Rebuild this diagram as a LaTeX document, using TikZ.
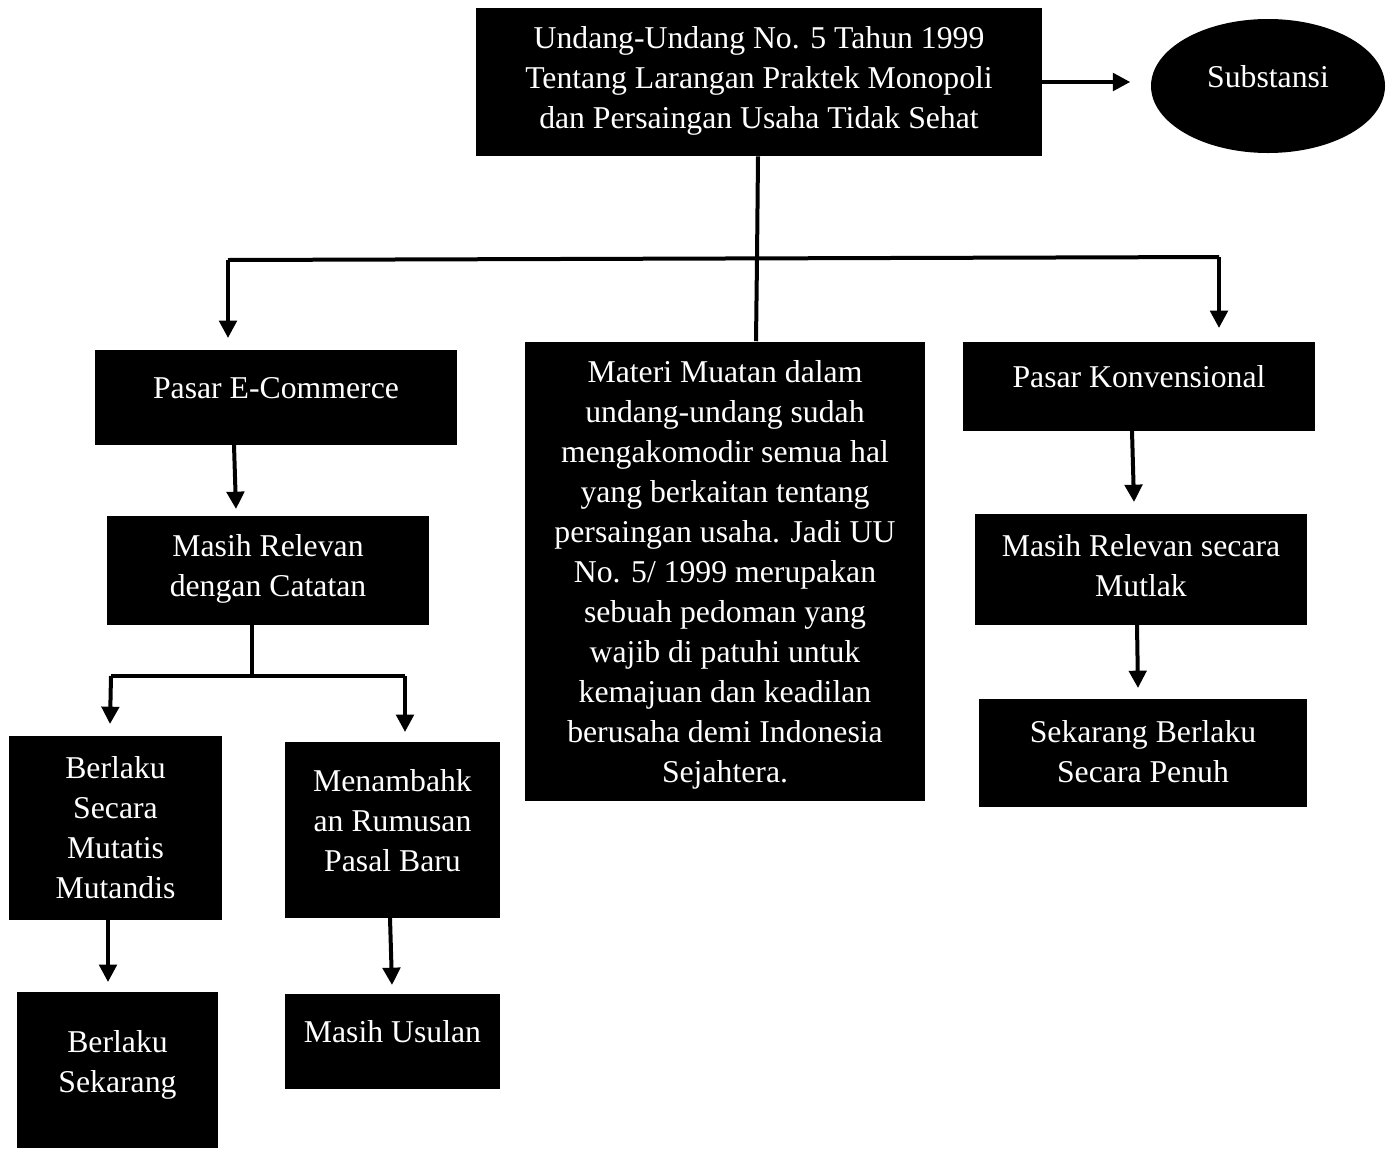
\documentclass[tikz,border=0pt]{standalone}
\usepackage{fontspec}
\setmainfont{Liberation Serif}
\usetikzlibrary{arrows.meta,shapes.geometric}
\begin{document}
\begin{tikzpicture}[x=0.75pt,y=-0.75pt,
  box/.style={draw=none,fill=black,rectangle,inner sep=0pt},
  txt/.style={text=white,align=center,font=\fontsize{23.8}{30}\selectfont,inner sep=0pt},
  conn/.style={line width=3pt,draw=black},
  arr/.style={conn,-{Triangle[length=13pt,width=13pt]}}]
\useasboundingbox (0,0) rectangle (1392,1150);
% boxes
\node[box,minimum width=566*0.75pt,minimum height=148*0.75pt] (uu) at (759,82) {};
\node[txt] (uut) at (759,81) {Undang-Undang No. 5 Tahun 1999\\Tentang Larangan Praktek Monopoli\\dan Persaingan Usaha Tidak Sehat};
\node[ellipse,fill=black,minimum width=234*0.75pt,minimum height=134*0.75pt,inner sep=0pt] (sub) at (1268,86) {};
\node[txt] (subt) at (1268,77) {Substansi};
\node[box,minimum width=362*0.75pt,minimum height=95*0.75pt] (ec) at (276,397) {};
\node[txt] (ect) at (276,388) {Pasar E-Commerce};
\node[box,minimum width=400*0.75pt,minimum height=459*0.75pt] (mm) at (725,571) {};
\node[txt] (mmt) at (725,575) {Materi Muatan dalam\\undang-undang sudah\\mengakomodir semua hal\\yang berkaitan tentang\\persaingan usaha. Jadi UU\\No. 5/ 1999 merupakan\\sebuah pedoman yang\\wajib di patuhi untuk\\kemajuan dan keadilan\\berusaha demi Indonesia\\Sejahtera.};
\node[box,minimum width=352*0.75pt,minimum height=89*0.75pt] (pk) at (1139,386) {};
\node[txt] (pkt) at (1139,377) {Pasar Konvensional};
\node[box,minimum width=322*0.75pt,minimum height=109*0.75pt] (mr) at (268,570) {};
\node[txt] (mrt) at (268,569) {Masih Relevan\\dengan Catatan};
\node[box,minimum width=213*0.75pt,minimum height=184*0.75pt] (bm) at (115.5,828) {};
\node[txt] (bmt) at (115.5,828) {Berlaku\\Secara\\Mutatis\\Mutandis};
\node[box,minimum width=215*0.75pt,minimum height=176*0.75pt] (mb) at (392.5,830) {};
\node[txt] (mbt) at (392.5,821) {Menambahk\\an Rumusan\\Pasal Baru};
\node[box,minimum width=201*0.75pt,minimum height=156*0.75pt] (bs) at (117.5,1070) {};
\node[txt] (bst) at (117.5,1065) {Berlaku\\Sekarang};
\node[box,minimum width=215*0.75pt,minimum height=95*0.75pt] (mu) at (392.5,1041.5) {};
\node[txt] (mut) at (392.5,1032) {Masih Usulan};
\node[box,minimum width=332*0.75pt,minimum height=111*0.75pt] (rm) at (1141,569.5) {};
\node[txt] (rmt) at (1141,566) {Masih Relevan secara\\Mutlak};
\node[box,minimum width=328*0.75pt,minimum height=108*0.75pt] (sp) at (1143,753) {};
\node[txt] (spt) at (1143,752) {Sekarang Berlaku\\Secara Penuh};
% junction coordinates
\coordinate (jtop) at (757,259);
\coordinate (jl) at (228,260);
\coordinate (jr) at (1219,257);
\coordinate (jl2) at (228,338);
\coordinate (jr2) at (1219,328);
\coordinate (jm) at (252,676);
\coordinate (jml) at (111,676);
\coordinate (jmr) at (405,676);
% connectors
\draw[arr] (uu.east) -- ++(88,0);
\draw[conn] (uu.south -| 758,0) -- (jtop) -- (mm.north -| 756,0);
\draw[conn] (jl) -- (jr);
\draw[arr] (jl) -- (jl2);
\draw[arr] (jr) -- (jr2);
\draw[arr] (234,445) -- (236,509);
\draw[conn] (mr.south -| jm) -- (jm);
\draw[conn] (jml) -- (jmr);
\draw[arr] (jml) -- (110,724);
\draw[arr] (jmr) -- (405,732);
\draw[arr] (108,920) -- (108,982);
\draw[arr] (390,918) -- (392,985);
\draw[arr] (1132,431) -- (1134,502);
\draw[arr] (1137,625) -- (1138,688);
\end{tikzpicture}
\end{document}
